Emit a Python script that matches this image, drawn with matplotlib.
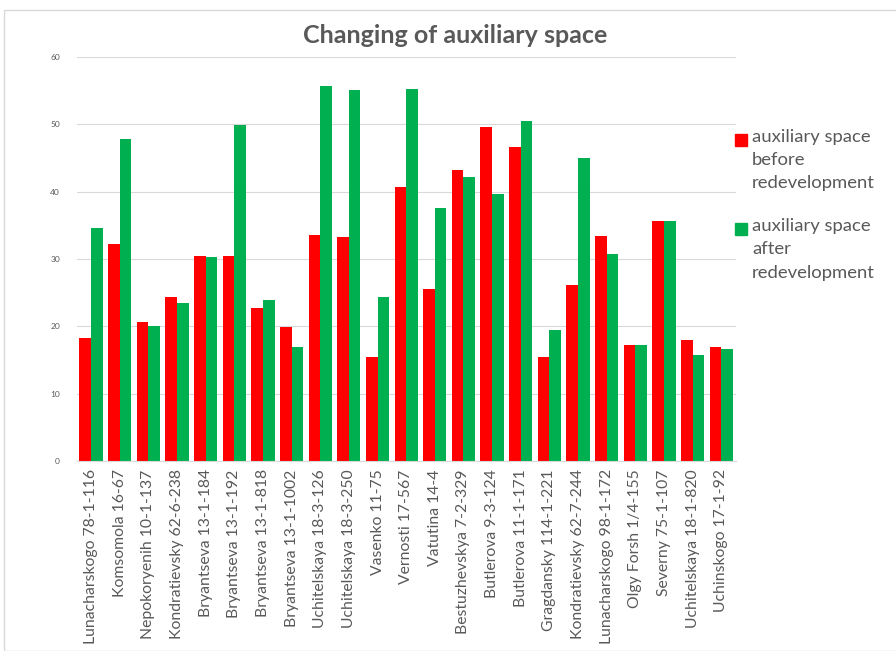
# bar chart: auxiliary space before and after redevelopment

import matplotlib.pyplot as plt
import numpy as np
from matplotlib.patches import Rectangle

plt.rcParams['font.family'] = ['Lato', 'DejaVu Sans']

buildings = ["Lunacharskogo 78-1-116", "Komsomola 16-67", "Nepokoryenih 10-1-137",
             "Kondratievsky 62-6-238", "Bryantseva 13-1-184", "Bryantseva 13-1-192",
             "Bryantseva 13-1-818", "Bryantseva 13-1-1002", "Uchitelskaya 18-3-126",
             "Uchitelskaya 18-3-250", "Vasenko 11-75", "Vernosti 17-567",
             "Vatutina 14-4", "Bestuzhevskya 7-2-329", "Butlerova 9-3-124",
             "Butlerova 11-1-171", "Gragdansky 114-1-221", "Kondratievsky 62-7-244",
             "Lunacharskogo 98-1-172", "Olgy Forsh 1/4-155", "Severny 75-1-107",
             "Uchitelskaya 18-1-820", "Uchinskogo 17-1-92"]
before = [18.2, 32.3, 20.6, 24.3, 30.4, 30.5, 22.7, 19.9, 33.6, 33.2, 15.5, 40.7,
          25.5, 43.2, 49.6, 46.7, 15.4, 26.2, 33.4, 17.2, 35.7, 17.9, 16.9]
after = [34.6, 47.8, 20.1, 23.4, 30.3, 49.9, 23.9, 17.0, 55.7, 55.1, 24.3, 55.3,
         37.6, 42.2, 39.7, 50.5, 19.5, 45.0, 30.7, 17.2, 35.6, 15.8, 16.6]
series_labels = ['auxiliary space\nbefore\nredevelopment',
                 'auxiliary space\nafter\nredevelopment']

red = '#ff0000'
green = '#00b050'
grey = '#595959'

fig = plt.figure(figsize=(8.96, 6.51), dpi=100)
ax = fig.add_axes([0.0856, 0.2919, 0.7354, 0.6205])

x = np.arange(len(buildings))
w = 0.405
ax.bar(x - w/2, before, w, color=red)
ax.bar(x + w/2, after, w, color=green)

ax.set_xlim(-0.5, len(buildings) - 0.5)
ax.set_ylim(0, 60)
ax.set_yticks(range(0, 61, 10))
ax.yaxis.grid(True, color='#d9d9d9', linewidth=0.8)
ax.set_axisbelow(True)
for s in ['top', 'right', 'left']:
    ax.spines[s].set_visible(False)
ax.spines['bottom'].set_color('#d9d9d9')
ax.tick_params(axis='y', length=0, labelsize=6, labelcolor=grey, pad=12)
ax.tick_params(axis='x', length=0, labelsize=11.3, labelcolor=grey, pad=6)
ax.set_xticks(x)
ax.set_xticklabels(buildings, rotation=90)

fig.text(0.508, 0.946, 'Changing of auxiliary space', ha='center', va='center',
         fontsize=18, fontweight='bold', color=grey)

# legend drawn by hand: square beside the first line of each entry
legend_top = [0.798, 0.661]
for lab, col, yt in zip(series_labels, [red, green], legend_top):
    fig.patches.append(Rectangle((0.8205, yt - 0.0225), 0.0134, 0.0184,
                                 transform=fig.transFigure, color=col))
    fig.text(0.8395, yt + 0.004, lab, ha='left', va='top', fontsize=13.3,
             color=grey, linespacing=1.56)

# faint frame around the chart
fig.patches.append(Rectangle((0.005, 0.0), 1.0, 0.984, transform=fig.transFigure,
                             fill=False, edgecolor='#d9d9d9', linewidth=1))

fig.savefig('out.png', dpi=100)
